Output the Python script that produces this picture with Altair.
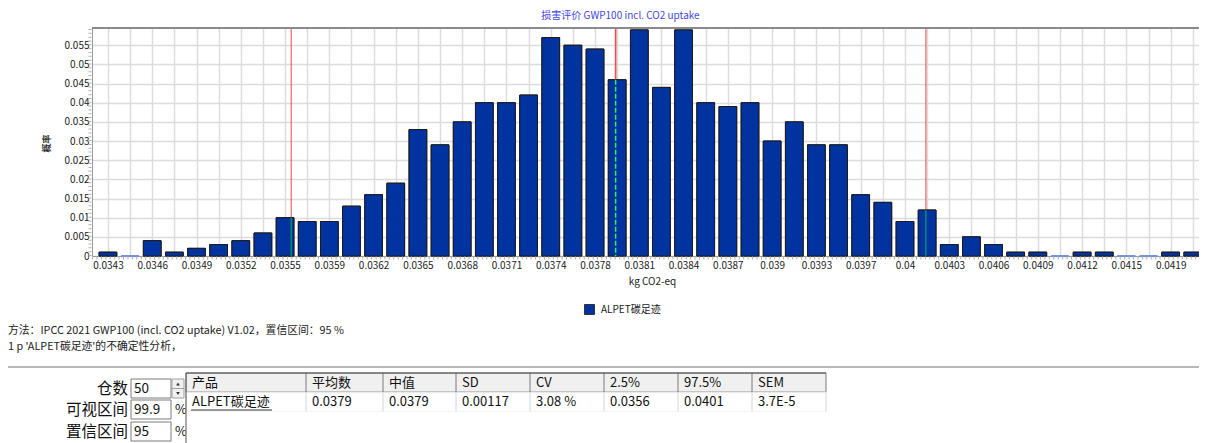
import altair as alt
import pandas as pd

# ---------------- data ----------------
probs = [0.001, 0.0, 0.004, 0.001, 0.002, 0.003, 0.004, 0.006, 0.010, 0.009,
         0.009, 0.013, 0.016, 0.019, 0.033, 0.029, 0.035, 0.040, 0.040, 0.042,
         0.057, 0.055, 0.054, 0.046, 0.059, 0.044, 0.059, 0.040, 0.039, 0.040,
         0.030, 0.035, 0.029, 0.029, 0.016, 0.014, 0.009, 0.012, 0.003, 0.005,
         0.003, 0.001, 0.001, 0.0, 0.001, 0.001, 0.0, 0.0, 0.001, 0.001]
x_tick_labels = ["0.0343", "0.0346", "0.0349", "0.0352", "0.0355", "0.0359", "0.0362",
                 "0.0365", "0.0368", "0.0371", "0.0374", "0.0378", "0.0381", "0.0384",
                 "0.0387", "0.039", "0.0393", "0.0397", "0.04", "0.0403", "0.0406",
                 "0.0409", "0.0412", "0.0415", "0.0419"]
y_ticks = [0, 0.005, 0.01, 0.015, 0.02, 0.025, 0.03, 0.035, 0.04, 0.045, 0.05, 0.055]
series_name = "ALPET碳足迹"
first_bin_center = 0.0343
bin_width = 0.000157
p_lo, mean_val, median_val, p_hi = 0.0356, 0.0379, 0.0379, 0.0401

title_text = "损害评价 GWP100 incl. CO2 uptake"
y_title = "概率"
x_title = "kg CO2-eq"
note_lines = ["方法：IPCC 2021 GWP100 (incl. CO2 uptake) V1.02，置信区间：95 %",
              "1 p 'ALPET碳足迹'的不确定性分析，"]
stat_headers = ["产品", "平均数", "中值", "SD", "CV", "2.5%", "97.5%", "SEM"]
stat_values = ["ALPET碳足迹", "0.0379", "0.0379", "0.00117", "3.08 %", "0.0356", "0.0401", "3.7E-5"]
side_labels = ["仓数", "可视区间", "置信区间"]
side_inputs = ["50", "99.9", "95"]

# ---------------- layout ----------------
FONT = "Noto Sans CJK SC"
X0, Y0 = 92, 28          # page position of plot origin
W, H = 1107, 228
col_edges = [186, 306, 383, 456, 530, 604, 678, 752, 826]

bars = pd.DataFrame({"bin": list(range(len(probs))), "prob": probs, "series": series_name})
bars["x0"] = bars["bin"] - 0.4
bars["x1"] = bars["bin"] + 0.4
bars["zero"] = 0.0

lines = pd.DataFrame({"kind": ["lo", "mean", "median", "hi"],
                      "value": [p_lo, mean_val, median_val, p_hi]})
lines["pos"] = (lines["value"] - first_bin_center) / bin_width
lines["top"] = [probs[int(round(p))] for p in lines["pos"]]
lines["zero"] = 0.0

xscale = alt.Scale(domain=[-0.72, 49.28], nice=False, zero=False)
yscale = alt.Scale(domain=[0, 0.0595], nice=False, zero=True)

arr = "[" + ",".join("'" + s + "'" for s in x_tick_labels) + "]"
xaxis = alt.Axis(values=list(range(len(probs))),
                 labelExpr=f"datum.value % 2 == 0 ? {arr}[datum.value / 2] : ''",
                 title=x_title, titleX=560, titleY=25, titleBaseline="middle", titleAlign="center",
                 titleFontSize=10, titleFontWeight="normal", titleColor="#222", titleFont=FONT,
                 labelFontSize=10, labelFont=FONT, labelColor="#222", labelPadding=4,
                 labelOverlap=False, labelFlush=False, labelBound=False,
                 ticks=False, grid=True, gridColor="#dcdcdc", gridWidth=1.5,
                 domainColor="#9a9a9a", domainWidth=1)
yaxis = alt.Axis(values=y_ticks, format=".3~g", title=y_title,
                 titleX=-41, titleY=115, titleFontSize=9, titleFontWeight="bold",
                 titleColor="#333", titleFont=FONT, titleAngle=270,
                 labelFontSize=10, labelFont=FONT, labelColor="#222", labelPadding=3,
                 labelOverlap=False, ticks=False, grid=True, gridColor="#dcdcdc", gridWidth=1.5,
                 domainColor="#9a9a9a", domainWidth=1)

one = pd.DataFrame({"a": [0]})


def txt(s, px, py, size=10, align="left", color="#222", weight="normal"):
    return alt.Chart(pd.DataFrame({"t": [s]})).mark_text(
        align=align, baseline="middle", fontSize=size, color=color, font=FONT, fontWeight=weight
    ).encode(x=alt.value(px - X0), y=alt.value(py - Y0), text="t:N")


def rect(x1, y1, x2, y2, fill="white", stroke="#7a7a7a", sw=1):
    return alt.Chart(one).mark_rect(fill=fill, stroke=stroke, strokeWidth=sw).encode(
        x=alt.value(x1 - X0), x2=alt.value(x2 - X0), y=alt.value(y1 - Y0), y2=alt.value(y2 - Y0))


def hline(x1, x2, y, color="#999", sw=1, dash=None):
    kw = dict(color=color, strokeWidth=sw)
    if dash:
        kw["strokeDash"] = dash
    return alt.Chart(one).mark_rule(**kw).encode(
        x=alt.value(x1 - X0), x2=alt.value(x2 - X0), y=alt.value(y - Y0))


def vline(x, y1, y2, color="#999", sw=1, dash=None):
    kw = dict(color=color, strokeWidth=sw)
    if dash:
        kw["strokeDash"] = dash
    return alt.Chart(one).mark_rule(**kw).encode(
        x=alt.value(x - X0), y=alt.value(y1 - Y0), y2=alt.value(y2 - Y0))


def marker(shape, px, py, size=14, color="#333"):
    return alt.Chart(one).mark_point(shape=shape, filled=True, size=size, color=color, opacity=1).encode(
        x=alt.value(px - X0), y=alt.value(py - Y0))


bar = alt.Chart(bars).mark_bar(strokeWidth=1).encode(
    x=alt.X("x0:Q", scale=xscale, axis=xaxis), x2="x1:Q",
    y=alt.Y("prob:Q", scale=yscale, axis=yaxis), y2="zero:Q",
    color=alt.Color("series:N", scale=alt.Scale(range=["#0032a0"]),
                    legend=alt.Legend(orient="none", legendX=492, legendY=276, title=None,
                                      symbolType="square", symbolSize=100,
                                      symbolStrokeColor="#333", symbolStrokeWidth=1,
                                      labelFont=FONT, labelFontSize=10, labelColor="#222",
                                      labelOffset=6)),
    stroke=alt.condition("datum.prob == 0", alt.value("#6f8fdc"), alt.value("#1c1c1c")))

red = alt.Chart(lines).mark_rule(color="#f02a2a", strokeWidth=1.5, opacity=0.6).encode(
    x=alt.X("pos:Q", scale=xscale, axis=xaxis))

green = alt.Chart(lines).transform_filter("datum.kind == 'lo' || datum.kind == 'hi'").mark_rule(
    color="#00c850", strokeWidth=1.5, opacity=0.6).encode(
    x=alt.X("pos:Q", scale=xscale, axis=xaxis), y=alt.Y("top:Q", scale=yscale, axis=yaxis), y2="zero:Q")
green_mean = alt.Chart(lines).transform_filter("datum.kind == 'mean'").mark_rule(
    color="#33ee55", strokeWidth=1.5, strokeDash=[5, 2]).encode(
    x=alt.X("pos:Q", scale=xscale, axis=xaxis), y=alt.Y("top:Q", scale=yscale, axis=yaxis), y2="zero:Q")

layers = [bar, red, bar, green, green_mean]

# frame & minor ticks
layers.append(hline(X0, X0 + W, Y0, color="#8a8a8a", sw=2))
layers.append(hline(X0, X0 + W, Y0 + H + 2, color="#b0b0b0", sw=3, dash=[1, 3.43]))
layers.append(vline(X0 - 2, Y0 + H, Y0, color="#b0b0b0", sw=3, dash=[1, 2.83]))

# footnotes
layers.append(txt(note_lines[0], 8, 331, size=10.8))
layers.append(txt(note_lines[1], 8, 347, size=10.8))

# bottom panel
layers.append(hline(8, 1199, 367, color="#b8b8b8", sw=2))
rows_y = [389, 410, 432]
box_y = [(379, 398), (400, 419), (422, 441)]
for lab, val, ry, (b1, b2) in zip(side_labels, side_inputs, rows_y, box_y):
    layers.append(txt(lab, 128, ry, size=15.5, align="right", color="#111"))
    layers.append(rect(131, b1, 171, b2))
    layers.append(txt(val, 134, ry, size=13.5, color="#111"))
layers.append(rect(172, 379, 184, 388.5, fill="#f0f0f0", stroke="#a0a0a0"))
layers.append(rect(172, 388.5, 184, 398, fill="#f0f0f0", stroke="#a0a0a0"))
layers.append(marker("triangle-up", 178, 384))
layers.append(marker("triangle-down", 178, 393.5))
for ry in rows_y[1:]:
    layers.append(txt("%", 175, ry, size=13, color="#111"))

# table
layers.append(rect(col_edges[0], 373, col_edges[-1], 392, fill="#f0f0f0", stroke="#7a7a7a"))
layers.append(rect(col_edges[0], 392, col_edges[-1], 412, fill="white", stroke="#d4d4d4"))
for e in col_edges[1:-1]:
    layers.append(vline(e, 373, 392, color="#7a7a7a"))
    layers.append(vline(e, 392, 412, color="#d4d4d4"))
layers.append(rect(col_edges[0], 412, 1199, 443, fill="white", stroke="white"))
layers.append(hline(col_edges[0], col_edges[-1], 373, color="#555", sw=1))
layers.append(vline(col_edges[0], 373, 443, color="#555", sw=1))
for e, h, v in zip(col_edges[:-1], stat_headers, stat_values):
    layers.append(txt(h, e + 6, 382.5, size=13, color="#111"))
    layers.append(txt(v, e + 6, 402, size=13, color="#111"))
layers.append(hline(col_edges[0] + 5, col_edges[0] + 86, 410, color="#333", sw=1))

chart = alt.layer(*layers).properties(
    width=W, height=H,
    title=alt.TitleParams(text=title_text, fontSize=10, color="#4646e6", font=FONT,
                          fontWeight="normal", anchor="middle", dx=-25, offset=6),
    padding={"left": 84, "top": 20, "right": 0, "bottom": 187},
    autosize=alt.AutoSizeParams(type="none"),
).configure_view(stroke="transparent").configure(background="white")

chart.save("out.html", embed_options={"renderer": "svg", "actions": False})
